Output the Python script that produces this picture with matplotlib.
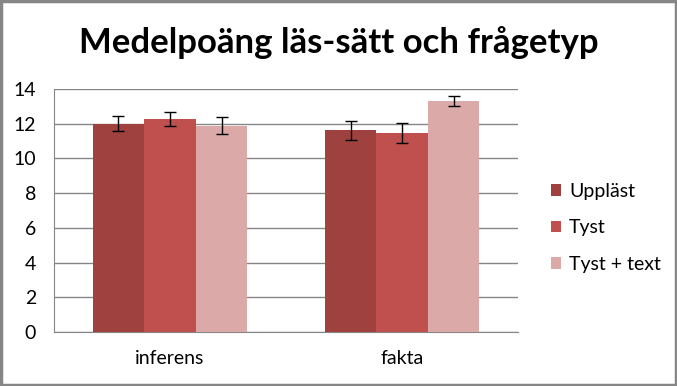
import numpy as np
import matplotlib.pyplot as plt
from matplotlib.patches import Rectangle

# data
categories = ['inferens', 'fakta']
series = ['Uppläst', 'Tyst', 'Tyst + text']
means = {
    'Uppläst': [12.0, 11.6],
    'Tyst': [12.25, 11.45],
    'Tyst + text': [11.88, 13.28],
}
errors = {
    'Uppläst': [0.41, 0.53],
    'Tyst': [0.41, 0.56],
    'Tyst + text': [0.50, 0.28],
}
colors = ['#9E413F', '#C0504D', '#DAA9A8']
yticks = [0, 2, 4, 6, 8, 10, 12, 14]

plt.rcParams['font.family'] = ['Lato', 'DejaVu Sans']

fig = plt.figure(figsize=(6.77, 3.86), dpi=100)
ax = fig.add_axes([0.0798, 0.1399, 0.6855, 0.6301])

x = np.arange(len(categories))
w = 1 / 4.5  # Excel gap width 150%
for k, name in enumerate(series):
    ax.bar(x + (k - 1) * w, means[name], w, color=colors[k], label=name,
           yerr=errors[name], capsize=4,
           error_kw=dict(ecolor='black', elinewidth=1, capthick=1), zorder=3)

ax.set_xlim(-0.5, 1.5)
ax.set_ylim(0, 14)
ax.set_yticks(yticks)
ax.set_xticks(x)
ax.set_xticklabels(categories, fontsize=14)
ax.tick_params(axis='y', labelsize=14, length=0, pad=13)
ax.tick_params(axis='x', length=0, pad=13)
ax.grid(axis='y', color='#868686', linewidth=1, zorder=0)
for side in ['top', 'right']:
    ax.spines[side].set_visible(False)
for side in ['left', 'bottom']:
    ax.spines[side].set_color('#868686')

fig.text(0.5, 0.89, 'Medelpoäng läs-sätt och frågetyp', ha='center', va='center',
         fontsize=25, fontweight='bold')

fig.legend(loc='center left', bbox_to_anchor=(0.802, 0.41), frameon=False,
           fontsize=14, handlelength=0.55, handleheight=0.55, handletextpad=0.4,
           labelspacing=1.0, borderaxespad=0)

fig.patches.append(Rectangle((0.002, 0.003), 0.996, 0.994, transform=fig.transFigure,
                             fill=False, edgecolor='#868686', linewidth=2.5))

fig.savefig('out.png', dpi=100)
